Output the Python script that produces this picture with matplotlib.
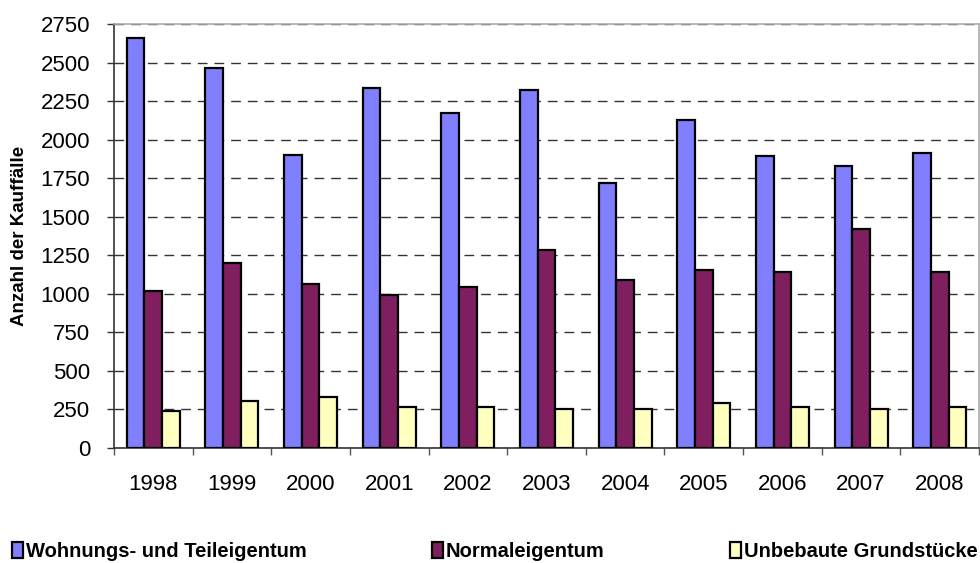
import matplotlib.pyplot as plt
import numpy as np

plt.rcParams['font.family'] = ['Liberation Sans', 'DejaVu Sans']

years = ["1998", "1999", "2000", "2001", "2002", "2003", "2004", "2005", "2006", "2007", "2008"]
wohnungs = [2660, 2467, 1902, 2333, 2171, 2320, 1719, 2125, 1892, 1831, 1915]
normal = [1018, 1202, 1066, 992, 1042, 1286, 1092, 1152, 1141, 1420, 1141]
unbebaut = [242, 305, 329, 266, 266, 253, 253, 294, 266, 253, 266]

labels = ["Wohnungs- und Teileigentum", "Normaleigentum", "Unbebaute Grundstücke"]
colors = ["#8080ff", "#7f1f5f", "#ffffc0"]

fig = plt.figure(figsize=(9.8, 5.63), dpi=100)
ax = fig.add_axes([0.1163, 0.2043, 0.8827, 0.7531])

x = np.arange(len(years))
w = 0.225
for i, (vals, lab, c) in enumerate(zip([wohnungs, normal, unbebaut], labels, colors)):
    ax.bar(x + (i - 1) * w, vals, w, color=c, edgecolor="black", linewidth=1.6, label=lab, zorder=3)

ax.set_xlim(-0.5, len(years) - 0.5)
ax.set_ylim(0, 2750)
ax.set_yticks(np.arange(0, 2751, 250))
ax.yaxis.grid(True, linestyle=(0, (7, 5)), color="#333333", linewidth=1)
ax.set_axisbelow(True)

ax.set_xticks(x)
ax.set_xticklabels(years, fontsize=16)
ax.tick_params(axis="x", length=0, pad=19)
ax.set_xticks(np.arange(-0.5, len(years), 1), minor=True)
ax.tick_params(axis="x", which="minor", length=5, width=1, color="#555555")
ax.tick_params(axis="y", labelsize=16, length=5, width=1, color="#333333", pad=12)

for s in ["top", "right"]:
    ax.spines[s].set_color("#aaaaaa")
    ax.spines[s].set_linewidth(1.2)
for s in ["left", "bottom"]:
    ax.spines[s].set_color("#333333")
    ax.spines[s].set_linewidth(1.2)

ax.set_ylabel("Anzahl der Kauffälle", fontsize=13.5, fontweight="bold", labelpad=9)

fig.legend(loc="lower left", bbox_to_anchor=(0.01, 0.0, 0.99, 0.04), ncol=3, mode="expand",
           frameon=False, prop={"weight": "bold", "size": 14.5}, handlelength=0.55, handleheight=0.8,
           handletextpad=0.15, borderaxespad=0.0, borderpad=0.1)

fig.savefig("out.png", dpi=100)
